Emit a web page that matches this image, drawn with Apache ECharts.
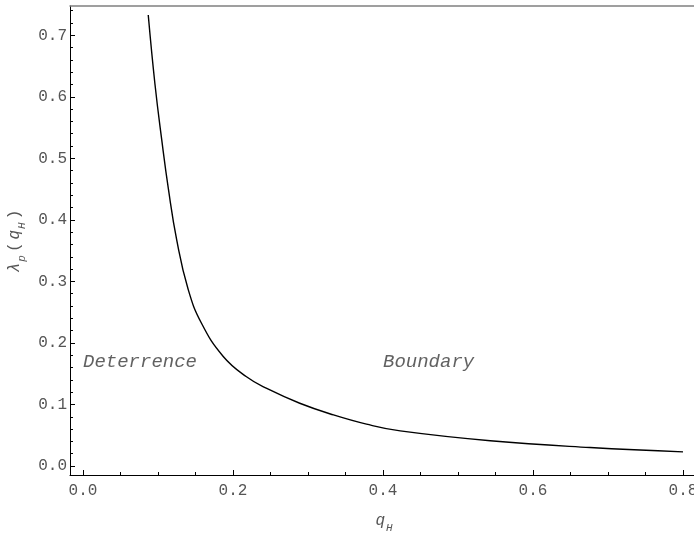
<!DOCTYPE html>
<html>
<head>
<meta charset="utf-8">
<script src="https://cdn.jsdelivr.net/npm/echarts@6/dist/echarts.min.js"></script>
<style>
  html, body { margin: 0; padding: 0; background: #fff; }
  #chart { width: 694px; height: 534px; }
</style>
</head>
<body>
<div id="chart"></div>
<script>
// Deterrence boundary λp(qH) sampled along qH
const qH = [0.087, 0.096, 0.105, 0.114, 0.125, 0.140, 0.158, 0.187, 0.218,
            0.245, 0.289, 0.334, 0.378, 0.423, 0.543, 0.676, 0.800];
const lambdaP = [0.733, 0.620, 0.530, 0.449, 0.367, 0.288, 0.232, 0.178, 0.145,
                 0.126, 0.102, 0.083, 0.068, 0.057, 0.041, 0.030, 0.023];

// Region annotations (left edge of text, vertical centre)
const noteText = ['Deterrence', 'Boundary'];
const noteQ = [0.0, 0.4];
const noteLambda = [0.169, 0.169];

// Tick labels
const xMajor = [0.0, 0.2, 0.4, 0.6, 0.8];
const xMinor = [0.05, 0.1, 0.15, 0.25, 0.3, 0.35, 0.45, 0.5, 0.55, 0.65, 0.7, 0.75];
const yMajor = [0.0, 0.1, 0.2, 0.3, 0.4, 0.5, 0.6, 0.7];
const yMinor = [0.02, 0.04, 0.06, 0.08, 0.12, 0.14, 0.16, 0.18, 0.22, 0.24, 0.26, 0.28,
                0.32, 0.34, 0.36, 0.38, 0.42, 0.44, 0.46, 0.48, 0.52, 0.54, 0.56, 0.58,
                0.62, 0.64, 0.66, 0.68, 0.72, 0.74];

// Plot range (frame padding around the data)
const X_MIN = -0.01733, X_MAX = 0.82;
const Y_MIN = -0.01463, Y_MAX = 0.7476;

const MONO = '"Liberation Mono", "Courier New", monospace';
const LABEL_COLOR = '#555';

const chart = echarts.init(document.getElementById('chart'), null, { renderer: 'canvas' });

const curve = qH.map((q, i) => [q, lambdaP[i]]);
const notes = noteText.map((t, i) => ({ name: t, value: [noteQ[i], noteLambda[i]] }));

const subRich = {
  m: { fontFamily: MONO, fontStyle: 'italic', fontSize: 16, color: LABEL_COLOR, lineHeight: 20,
       verticalAlign: 'middle', padding: [0, 1, 0, 1] },
  p: { fontFamily: MONO, fontSize: 16, color: LABEL_COLOR, lineHeight: 20,
       verticalAlign: 'middle', padding: [0, 2, 0, 2] },
  s: { fontFamily: MONO, fontStyle: 'italic', fontSize: 11, color: LABEL_COLOR, lineHeight: 12,
       verticalAlign: 'bottom', padding: [0, 1, -3, 0] }
};

function baseX(extra) {
  return Object.assign({
    type: 'value', min: X_MIN, max: X_MAX, position: 'bottom',
    splitLine: { show: false },
    axisLine: { show: false, onZero: false },
    axisTick: { show: false },
    axisLabel: { show: false }
  }, extra);
}
function baseY(extra) {
  return Object.assign({
    type: 'value', min: Y_MIN, max: Y_MAX, position: 'left',
    splitLine: { show: false },
    axisLine: { show: false, onZero: false },
    axisTick: { show: false },
    axisLabel: { show: false }
  }, extra);
}

const option = {
  backgroundColor: '#fff',
  animation: false,
  grid: { left: 70, top: 6, bottom: 59, right: -4, containLabel: false, outerBoundsMode: 'none' },
  xAxis: [
    baseX({
      axisLine: { show: true, onZero: false, lineStyle: { color: '#000', width: 1 } },
      axisTick: { show: true, inside: true, length: 5, customValues: xMajor, lineStyle: { color: '#000' } },
      axisLabel: {
        show: true, customValues: xMajor, margin: 8,
        fontFamily: MONO, fontSize: 16, color: LABEL_COLOR,
        formatter: v => v.toFixed(1)
      },
      name: '{m|q}{s|H}', nameLocation: 'middle', nameGap: 36,
      nameTextStyle: { rich: subRich }
    }),
    baseX({
      axisTick: { show: true, inside: true, length: 3, customValues: xMinor, lineStyle: { color: '#000' } }
    }),
    baseX({
      position: 'top',
      axisLine: { show: true, onZero: false, lineStyle: { color: '#808080', width: 1.5 } }
    })
  ],
  yAxis: [
    baseY({
      axisLine: { show: true, onZero: false, lineStyle: { color: '#000', width: 1 } },
      axisTick: { show: true, inside: true, length: 5, customValues: yMajor, lineStyle: { color: '#000' } },
      axisLabel: {
        show: true, customValues: yMajor, margin: 3,
        fontFamily: MONO, fontSize: 16, color: LABEL_COLOR,
        formatter: v => v.toFixed(1)
      },
      name: '{m|λ}{s|p}{p|(}{m|q}{s|H}{p|)}', nameLocation: 'middle', nameGap: 40, nameRotate: 90,
      nameTextStyle: { rich: subRich }
    }),
    baseY({
      axisTick: { show: true, inside: true, length: 3, customValues: yMinor, lineStyle: { color: '#000' } }
    })
  ],
  series: [
    {
      type: 'line',
      xAxisIndex: 0, yAxisIndex: 0,
      data: curve,
      smooth: 0.45,
      showSymbol: false,
      clip: true,
      lineStyle: { color: '#000', width: 1.4 }
    },
    {
      type: 'scatter',
      xAxisIndex: 0, yAxisIndex: 0,
      data: notes,
      symbolSize: 0,
      label: {
        show: true, position: 'right', distance: 0,
        formatter: p => p.name,
        fontFamily: MONO, fontStyle: 'italic', fontSize: 19, color: '#3a3a3a',
        align: 'left', verticalAlign: 'middle'
      }
    }
  ]
};

chart.setOption(option);
</script>
</body>
</html>
